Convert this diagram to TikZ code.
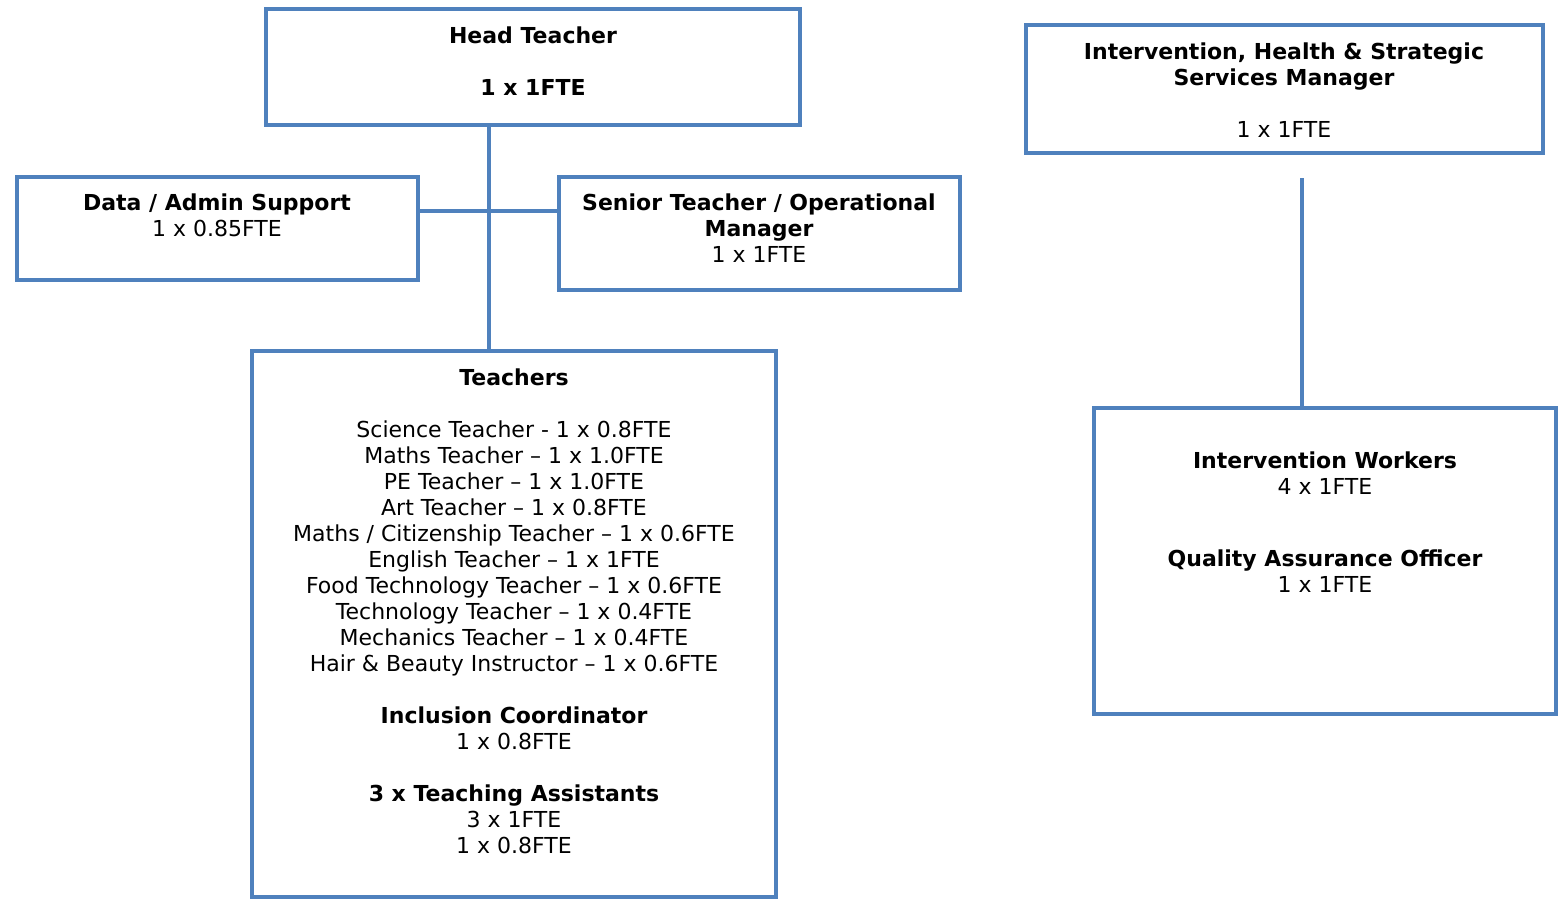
\documentclass[tikz,border=0pt]{standalone}
\usepackage{fontspec}
\setmainfont{DejaVu Sans}
\usepackage{tikz}
\definecolor{boxblue}{HTML}{4F81BD}
\tikzset{
	post/.style={draw=boxblue,line width=2.4pt,inner sep=0pt},
	txt/.style={anchor=north,align=center,inner sep=0pt,font=\fontsize{11}{13}\selectfont},
	link/.style={boxblue,line width=2.4pt}
}
\begin{document}
\begin{tikzpicture}[x=0.5pt,y=-0.5pt]
			\useasboundingbox (0,0) rectangle (1558,899);
			% boxes
			\node [post,minimum width=267pt,minimum height=58pt] (head) at (533,67) {};
			\node [post,minimum width=200.5pt,minimum height=51.5pt] (data) at (217.5,228.5) {};
			\node [post,minimum width=200.5pt,minimum height=56.5pt] (senior) at (759.5,233.5) {};
			\node [post,minimum width=262pt,minimum height=273pt] (teach) at (514,624) {};
			\node [post,minimum width=258.5pt,minimum height=64pt] (ihs) at (1284.5,89) {};
			\node [post,minimum width=231pt,minimum height=153pt] (iw) at (1325,561) {};
			% texts
			\node [txt] (headtxt) at (533,26) {\textbf{Head Teacher}\\ \\ \textbf{1 x 1FTE}};
			\node [txt] (datatxt) at (217,193) {\textbf{Data / Admin Support}\\1 x 0.85FTE};
			\node [txt] (seniortxt) at (759,193) {\textbf{Senior Teacher / Operational}\\ \textbf{Manager}\\1 x 1FTE};
			\node [txt] (teachtxt) at (514,368) {\textbf{Teachers}\\ \\
				Science Teacher - 1 x 0.8FTE\\
				Maths Teacher – 1 x 1.0FTE\\
				PE Teacher – 1 x 1.0FTE\\
				Art Teacher – 1 x 0.8FTE\\
				Maths / Citizenship Teacher – 1 x 0.6FTE\\
				English Teacher – 1 x 1FTE\\
				Food Technology Teacher – 1 x 0.6FTE\\
				Technology Teacher – 1 x 0.4FTE\\
				Mechanics Teacher – 1 x 0.4FTE\\
				Hair \& Beauty Instructor – 1 x 0.6FTE\\ \\
				\textbf{Inclusion Coordinator}\\
				1 x 0.8FTE\\ \\
				\textbf{3 x Teaching Assistants}\\
				3 x 1FTE\\
				1 x 0.8FTE};
			\node [txt] (ihstxt) at (1284,42) {\textbf{Intervention, Health \& Strategic}\\ \textbf{Services Manager}\\ \\1 x 1FTE};
			\node [txt] (iwtxt) at (1325,451) {\textbf{Intervention Workers}\\4 x 1FTE\\[23pt]
				\textbf{Quality Assurance Officer}\\1 x 1FTE};
			% lines
			\coordinate (trunk) at (489,211);
			\coordinate (iwtop) at (1302,178);
			\draw [link] (head.south -| trunk) -- (teach.north -| trunk);
			\draw [link] (data.east |- trunk) -- (senior.west |- trunk);
			\draw [link] (iwtop) -- (iw.north -| iwtop);
\end{tikzpicture}
\end{document}
